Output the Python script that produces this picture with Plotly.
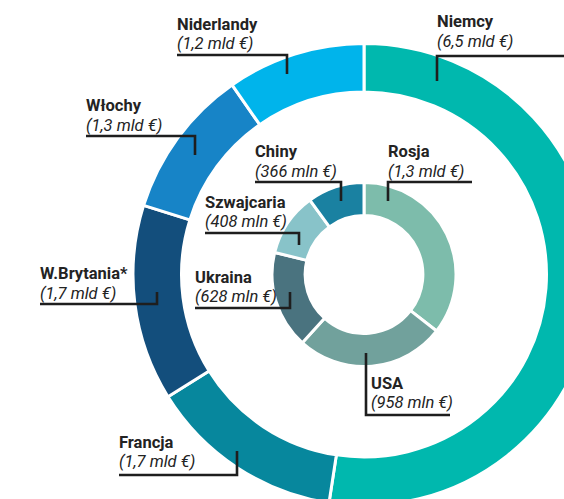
import plotly.graph_objects as go

# ---------------- data ----------------
outer_labels = ["Niemcy", "Francja", "W.Brytania*", "Włochy", "Niderlandy"]
outer_values = [6.5, 1.7, 1.7, 1.3, 1.2]
outer_texts = ["(6,5 mld €)", "(1,7 mld €)", "(1,7 mld €)", "(1,3 mld €)", "(1,2 mld €)"]
outer_colors = ["#00b8ae", "#07879d", "#134e7c", "#1784c7", "#00b4eb"]

inner_labels = ["Rosja", "USA", "Ukraina", "Szwajcaria", "Chiny"]
inner_values = [1300, 958, 628, 408, 366]
inner_texts = ["(1,3 mld €)", "(958 mln €)", "(628 mln €)", "(408 mln €)", "(366 mln €)"]
inner_colors = ["#7dbcab", "#71a19c", "#4a737f", "#88c3c9", "#1a81a1"]

# ---------------- geometry (pixels) ----------------
W, H = 728, 549          # figure larger than the window -> ring is cropped
CX, CY = 364, 274.5      # center of both rings
R_OUT, R_IN = 231, 92

def dom_x(r):
    return [(CX - r) / W, (CX + r) / W]

def dom_y(r):
    return [(H - CY - r) / H, (H - CY + r) / H]

def px(x):
    return x / W

def py(y):
    return 1 - y / H

fig = go.Figure()
fig.add_trace(go.Pie(
    labels=outer_labels, values=outer_values, sort=False, direction="clockwise",
    rotation=0, hole=0.79, textinfo="none", hoverinfo="label+value",
    marker=dict(colors=outer_colors, line=dict(color="white", width=3)),
    domain=dict(x=dom_x(R_OUT), y=dom_y(R_OUT)), showlegend=False,
))
fig.add_trace(go.Pie(
    labels=inner_labels, values=inner_values, sort=False, direction="clockwise",
    rotation=0, hole=0.64, textinfo="none", hoverinfo="label+value",
    marker=dict(colors=inner_colors, line=dict(color="white", width=3)),
    domain=dict(x=dom_x(R_IN), y=dom_y(R_IN)), showlegend=False,
))

# label placement: (text left x, bold center y, italic center y, leader polyline)
label_pos = {
    "Niemcy":      (437, 22, 42, [(564, 56), (437, 56), (437, 81)]),
    "Niderlandy":  (177, 24, 43, [(177, 55), (287, 55), (287, 74)]),
    "Włochy":      (86, 105, 125, [(86, 136), (195, 136), (195, 155)]),
    "W.Brytania*": (40, 273, 293, [(40, 304), (157, 304), (157, 292)]),
    "Francja":     (119, 442, 461, [(119, 475), (237, 475), (237, 451)]),
    "Chiny":       (255, 152, 171, [(255, 182), (341, 182), (341, 201)]),
    "Rosja":       (388, 152, 171, [(472, 182), (388, 182), (388, 201)]),
    "Szwajcaria":  (205, 202, 221, [(205, 233), (299, 233), (299, 245)]),
    "Ukraina":     (195, 277, 296, [(195, 308), (290, 308), (290, 292)]),
    "USA":         (371, 383, 402, [(366, 353), (366, 415), (450, 415)]),
}

all_labels = outer_labels + inner_labels
all_texts = outer_texts + inner_texts
TXT = "#232323"
FS = 16.5
for lab, val in zip(all_labels, all_texts):
    x0, yb, yi, pts = label_pos[lab]
    fig.add_annotation(x=px(x0), y=py(yb), xref="paper", yref="paper",
                       text="<b>" + lab + "</b>", showarrow=False,
                       xanchor="left", yanchor="middle", xshift=-2,
                       font=dict(family="Roboto", size=FS, color=TXT))
    fig.add_annotation(x=px(x0), y=py(yi), xref="paper", yref="paper",
                       text="<i>" + val + "</i>", showarrow=False,
                       xanchor="left", yanchor="middle", xshift=-2,
                       font=dict(family="Roboto", size=FS, color=TXT))
    path = "M " + " L ".join(f"{px(a)} {py(b)}" for a, b in pts)
    fig.add_shape(type="path", path=path, xref="paper", yref="paper",
                  line=dict(color="#1e1e1e", width=2.6), layer="above")

fig.update_layout(
    width=W, height=H, margin=dict(l=0, r=0, t=0, b=0),
    paper_bgcolor="white", plot_bgcolor="white", showlegend=False,
)

fig.write_html(
    "out.html",
    post_script="document.body.style.margin='0';document.body.style.overflow='hidden';"
                "document.documentElement.style.overflow='hidden';",
)
